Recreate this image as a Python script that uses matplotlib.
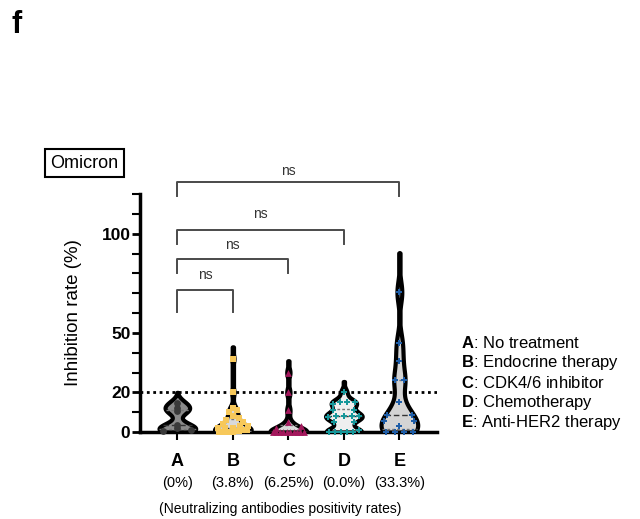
import numpy as np
import matplotlib
matplotlib.use("Agg")
import matplotlib.pyplot as plt

plt.rcParams['font.family'] = ['Liberation Sans', 'DejaVu Sans']
plt.rcParams['mathtext.fontset'] = 'custom'
plt.rcParams['mathtext.rm'] = 'Liberation Sans'
plt.rcParams['mathtext.bf'] = 'Liberation Sans:bold'

# data (inhibition rate, %)
groups = ["A", "B", "C", "D", "E"]
vals_a = [14.5, 12, 10.5, 3.5, 2, 1, 0.5]
vals_b = [37, 20, 12, 11, 10, 8, 7, 6, 5, 4, 3, 3, 2, 2, 2, 1, 1, 1,
          0.5, 0.5, 0, 0, 0, 0, 0, 0]
vals_c = [30, 20, 11, 5, 3, 2, 0, 0, 0, 0, 0, 0, 0, 0, 0, 0]
vals_d = [20, 15, 15, 15, 14, 11, 11, 8, 8, 8, 8, 7.5, 5, 5, 1,
          0, 0, 0, 0, 0]
vals_e = [70.5, 45, 36, 26, 26, 15, 8.5, 8.5, 5.5, 5.5, 3, 0, 0, 0, 0]
pos_rates = ["(0%)", "(3.8%)", "(6.25%)", "(0.0%)", "(33.3%)"]
legend_names = ["No treatment", "Endocrine therapy", "CDK4/6 inhibitor",
                "Chemotherapy", "Anti-HER2 therapy"]

all_vals = [vals_a, vals_b, vals_c, vals_d, vals_e]
fills = ["#8a8a8a", "#d9d9d9", "#d9d9d9", "#efefef", "#d4d4d4"]
dot_colors = ["#3a3a3a", "#f7c85a", "#a3185c", "#17979a", "#1f5ea8"]
markers = ["o", "s", "^", "P", "P"]
bws = [2.4, 2.2, 2.2, 2.0, 5.5]
tips = [5.5, 6, 6, 5.5, 20]  # how far the violin tip runs past the top point

fig = plt.figure(figsize=(6.4, 5.19), dpi=100)
ax = fig.add_axes([0.219, 0.1676, 0.464, 0.4586])


def kde(v, grid, bw):
    v = np.asarray(v, float)
    d = np.exp(-0.5 * ((grid[:, None] - v[None, :]) / bw) ** 2).sum(axis=1)
    return d


for i, v in enumerate(all_vals):
    v = np.asarray(v, float)
    bw = bws[i]
    grid = np.linspace(0, v.max() + tips[i], 400)
    d = kde(v, grid, bw)
    w = d / d.max() * 0.33
    w = np.maximum(w, 0.012)
    w[-1] = 0
    ax.fill_betweenx(grid, i - w, i + w, facecolor=fills[i], edgecolor="black",
                     linewidth=3, zorder=2, clip_on=True)
    # median and quartiles
    for q, ls in zip([25, 50, 75], [(0, (2, 1.5)), (0, (4, 2)), (0, (2, 1.5))]):
        y = np.percentile(v, q)
        hw = np.interp(y, grid, w)
        ax.plot([i - hw, i + hw], [y, y], color="#333333" if q == 50 else "#777777",
                lw=1.0, linestyle=ls, zorder=3)
    # spread points with equal-ish values across the violin
    vs = np.sort(v)
    xs = np.zeros_like(vs)
    j = 0
    while j < len(vs):
        k = j
        while k + 1 < len(vs) and vs[k + 1] - vs[j] < 1.2:
            k += 1
        n = k - j + 1
        if n > 1:
            hw = np.interp(vs[j], grid, w) * 0.85
            xs[j:k + 1] = np.linspace(-hw, hw, n)
        j = k + 1
    ax.scatter(i + xs, vs, s=24, marker=markers[i], color=dot_colors[i],
               zorder=4, clip_on=False, linewidths=0)

ax.axhline(20, color="black", lw=2, linestyle=(0, (1, 1.3)), zorder=1)

ax.set_xlim(-0.67, 4.68)
ax.set_ylim(0, 120)
ax.set_yticks([0, 20, 50, 100])
ax.set_yticks([10, 30, 40, 60, 70, 80, 90, 110, 120], minor=True)
ax.set_yticklabels(["0", "20", "50", "100"], fontsize=12.5, fontweight="bold")
ax.set_xticks(range(5))
ax.set_xticklabels(groups, fontsize=13, fontweight="bold")
ax.tick_params(axis="y", which="major", length=6, width=2, direction="out", pad=1)
ax.tick_params(axis="y", which="minor", length=5.5, width=1.5, direction="out")
ax.tick_params(axis="x", which="major", length=6, width=1.5, direction="out", pad=9)
for s in ["top", "right"]:
    ax.spines[s].set_visible(False)
ax.spines["left"].set_linewidth(2.5)
ax.spines["bottom"].set_linewidth(2.5)
ax.set_ylabel("Inhibition rate (%)", fontsize=13.5, labelpad=14)

# significance brackets (A vs B..E)
brackets = [(1, 60.5, 71.5, 79), (2, 80, 87, 94.5), (3, 95, 102, 110), (4, 119, 126, 131.5)]
for x2, low, top, ty in brackets:
    ax.plot([0, 0, x2, x2], [low, top, top, low], color="#4a4a4a", lw=1.4,
            clip_on=False, zorder=1)
    ax.text(x2 / 2, ty, "ns", ha="center", va="center", fontsize=10,
            color="#333333", clip_on=False)

for i, p in enumerate(pos_rates):
    ax.text(i, -0.215, p, transform=ax.get_xaxis_transform(), ha="center",
            va="center", fontsize=10.5)
ax.text(0.47, -0.325, "(Neutralizing antibodies positivity rates)",
        transform=ax.transAxes, ha="center", va="center", fontsize=10)

for i, (g, name) in enumerate(zip(groups, legend_names)):
    fig.text(0.72, 1 - (343 + i * 19.8) / 519, r"$\bf{" + g + "}$: " + name,
             ha="left", va="center", fontsize=12)

fig.text(0.132, 1 - 163 / 519, "Omicron", ha="center", va="center", fontsize=13,
         bbox=dict(boxstyle="square,pad=0.3", facecolor="white", edgecolor="black", lw=1.5))
fig.text(0.018, 1 - 25 / 519, "f", ha="left", va="center", fontsize=22, fontweight="bold")

fig.savefig("out.png", dpi=100)
